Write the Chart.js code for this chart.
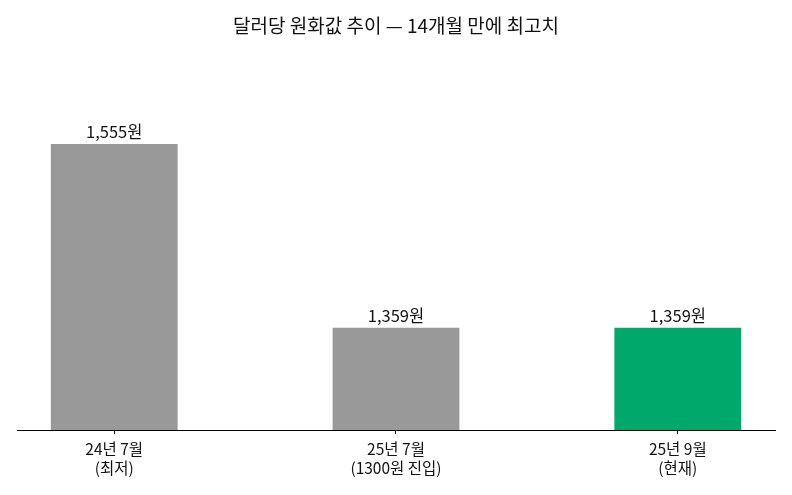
<!DOCTYPE html>
<html><head><meta charset="utf-8">
<script src="https://cdn.jsdelivr.net/npm/chart.js@4/dist/chart.umd.min.js"></script>
<style>html,body{margin:0;padding:0;background:#fff}#wrap{width:792px;height:495px}</style>
</head><body><div id="wrap"><canvas id="c"></canvas></div>
<script>
const categories = [["24년 7월","(최저)"],["25년 7월","(1300원 진입)"],["25년 9월","(현재)"]];
const values = [1555, 1359, 1359];
const valueLabels = ["1,555원","1,359원","1,359원"];
const barColors = ["#999999","#999999","#00a86b"];
const titleText = "달러당 원화값 추이 — 14개월 만에 최고치";
const FONT = "'Noto Sans CJK KR','Noto Sans',sans-serif";

const labelPlugin = {
  id:'vlabels',
  afterDatasetsDraw(chart){
    const ctx = chart.ctx;
    const meta = chart.getDatasetMeta(0);
    ctx.save();
    ctx.font = "16.5px " + FONT;
    ctx.fillStyle = "#111";
    ctx.textAlign = "center";
    ctx.textBaseline = "alphabetic";
    meta.data.forEach((el,i)=>{
      ctx.fillText(valueLabels[i], el.x, el.y - 6);
    });
    ctx.restore();
  }
};

new Chart(document.getElementById('c'), {
  type:'bar',
  data:{datasets:[{data:values.map((v,i)=>({x:i,y:v})), backgroundColor:barColors, barPercentage:0.45, categoryPercentage:1.0}]},
  options:{
    responsive:true, maintainAspectRatio:false, animation:false,
    layout:{padding:{left:17,right:17,top:12,bottom:12.25}},
    plugins:{
      legend:{display:false}, tooltip:{enabled:false},
      title:{display:true, text:titleText, color:"#111", font:{family:FONT,size:19,weight:'normal'}, padding:{top:2,bottom:65}}
    },
    scales:{
      x:{
        type:'linear', min:-0.345, max:2.345, offset:false,
        grid:{display:true, drawOnChartArea:false, drawTicks:true, tickLength:4, color:"#000", offset:false},
        border:{display:true, color:"#000", width:1},
        ticks:{stepSize:1, includeBounds:false, color:"#111", font:{family:FONT,size:15.5,lineHeight:1.25}, padding:5, maxRotation:0,
          callback:(v)=> Number.isInteger(v) && categories[v] ? categories[v] : ''}
      },
      y:{display:false, min:1250, max:1600}
    }
  },
  plugins:[labelPlugin]
});
</script></body></html>
